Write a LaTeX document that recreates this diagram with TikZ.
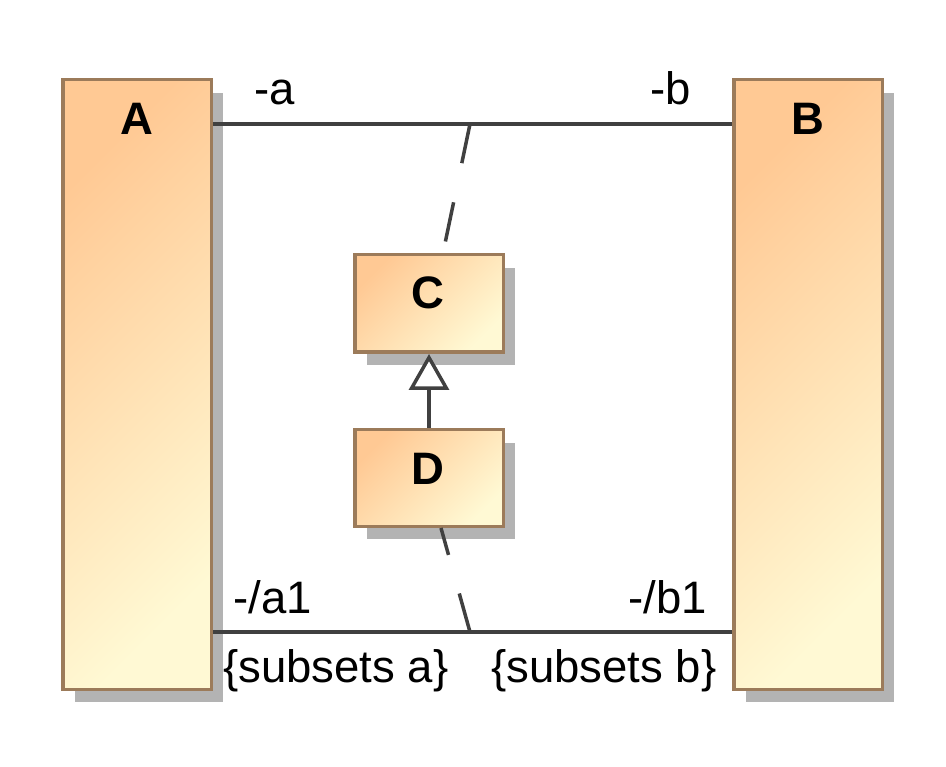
\documentclass[tikz,border=0pt]{standalone}
\usepackage{fontspec}
\setmainfont{Liberation Sans}
\usetikzlibrary{arrows.meta,shadows}
\definecolor{boxtop}{HTML}{FFC994}
\definecolor{boxbot}{HTML}{FFF9D4}
\definecolor{boxline}{HTML}{9C7B5A}
\definecolor{shadowgray}{HTML}{B3B3B3}
\definecolor{linegray}{HTML}{404040}

\begin{document}
\begin{tikzpicture}[x=1pt,y=-1pt,
  every node/.style={font=\fontsize{45.5}{52}\selectfont, inner sep=0pt},
  classbox/.style={draw=boxline, line width=3.5pt, top color=boxtop, bottom color=boxbot, shading angle=45,
    drop shadow={shadow xshift=12pt, shadow yshift=-13pt, fill=shadowgray, opacity=1}},
  assoc/.style={draw=linegray, line width=3.5pt},
  link/.style={draw=linegray, line width=3.5pt, dash pattern=on 40pt off 40pt}]
\useasboundingbox (0,0) rectangle (946,767);

\node[classbox, minimum width=148.5pt, minimum height=609.5pt] (A) at (137,384.5) {};
\node[classbox, minimum width=148.5pt, minimum height=609.5pt] (B) at (808,384.5) {};
\node[classbox, minimum width=148.5pt, minimum height=97.5pt] (C) at (429,303.5) {};
\node[classbox, minimum width=148.5pt, minimum height=96.5pt] (D) at (429,478) {};

\node[anchor=base] (An) at (137,135) {\bfseries A};
\node[anchor=base] (Bn) at (808,135) {\bfseries B};
\node[anchor=base] (Cn) at (428,309) {\bfseries C};
\node[anchor=base] (Dn) at (428,485) {\bfseries D};

\coordinate (mT) at (470,124);
\coordinate (mB) at (470,632);

\path[assoc] (A.east |- 0,124) edge [] node[]{} (B.west |- 0,124);
\path[assoc] (A.east |- 0,632) edge [] node[]{} (B.west |- 0,632);

\path[link] (mT) edge [] node[]{} ([xshift=14pt]C.north);
\path[link] (mB) edge [] node[]{} ([xshift=12pt]D.south);

\draw[draw=linegray, line width=3.5pt, -{Triangle[open, length=36pt, width=40pt, fill=white]}] (D.north) -- (C.south);

\node[anchor=base west] (ra) at (254,105) {-a};
\node[anchor=base west] (rb) at (650,105) {-b};
\node[anchor=base west] (ra1) at (233,613) {-/a1};
\node[anchor=base west] (rb1) at (628,613) {-/b1};
\node[anchor=base west] (sa) at (223,682) {\{subsets a\}};
\node[anchor=base west] (sb) at (491,682) {\{subsets b\}};
\end{tikzpicture}
\end{document}
